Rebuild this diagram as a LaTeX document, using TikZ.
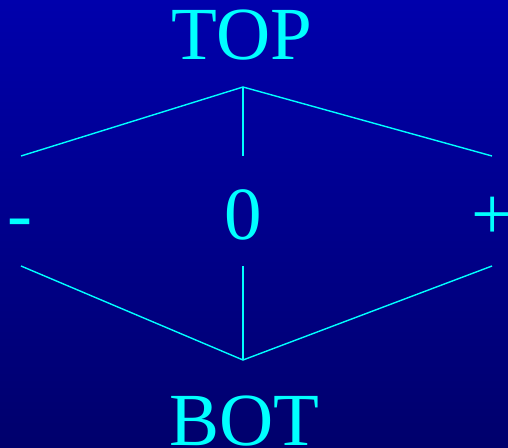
\documentclass[tikz,border=0pt]{standalone}
\usepackage{fontspec}
\setmainfont{Liberation Serif}
\definecolor{aqua}{RGB}{0,255,255}
\begin{document}
\begin{tikzpicture}[x=1pt,y=1pt,
  lbl/.style={text=aqua, font=\fontsize{75}{82}\selectfont, inner sep=0pt, anchor=base},
  ln/.style={draw=aqua, line width=1.4pt}]
\shade[top color={rgb,255:red,0;green,0;blue,172}, bottom color={rgb,255:red,0;green,0;blue,108}] (0,0) rectangle (508,447);
\useasboundingbox (0,0) rectangle (508,447);
\node[lbl] (top) at (242,387) {TOP};
\node[lbl] (zero) at (243,207) {0};
\node[lbl] (minus) at (20,207) {-};
\node[lbl] (plus) at (493,207) {+};
\node[lbl] (bot) at (244,2) {BOT};
\coordinate (ta) at (243,360);
\coordinate (tl) at (21,291);
\coordinate (tr) at (492,291);
\coordinate (tm) at (243,291);
\coordinate (ba) at (243,87);
\coordinate (bl) at (21,181);
\coordinate (br) at (492,181);
\coordinate (bm) at (243,181);
\draw[ln] (tl) -- (ta) -- (tr);
\draw[ln] (ta) -- (tm);
\draw[ln] (bl) -- (ba) -- (br);
\draw[ln] (ba) -- (bm);
\end{tikzpicture}
\end{document}
